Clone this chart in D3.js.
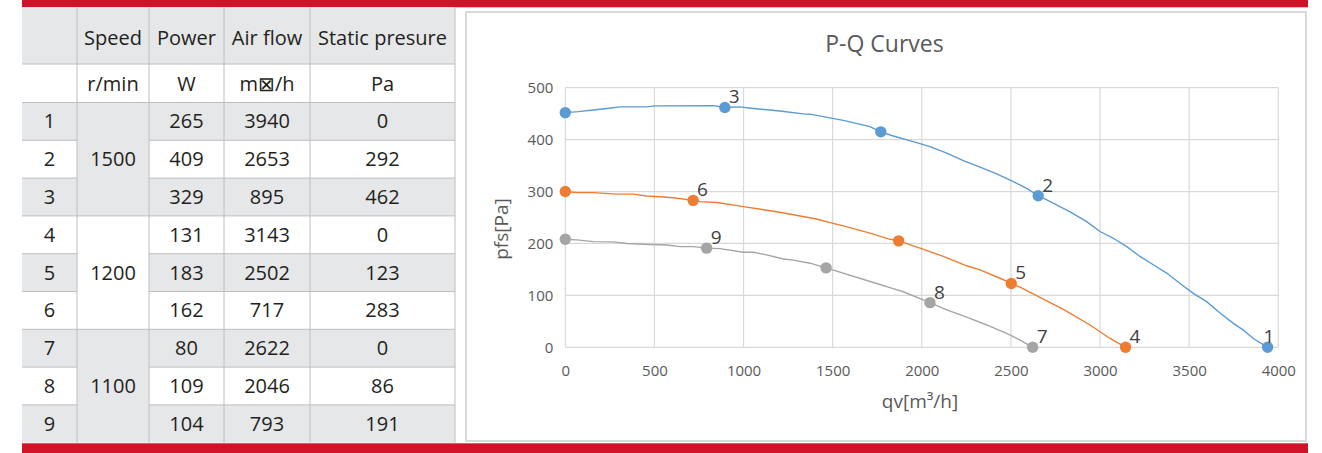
<!DOCTYPE html>
<html lang="en">
<head>
<meta charset="utf-8">
<title>P-Q Curves</title>
<script src="https://cdn.jsdelivr.net/npm/d3@7"></script>
<style>
  body { margin: 0; background: #fff; }
  svg { display: block; font-family: "Open Sans", sans-serif; }
</style>
</head>
<body>
<script>
// ---- table data ----
const headers = ["Speed", "Power", "Air flow", "Static presure"];
const units = ["r/min", "W", "m\u22A0/h", "Pa"];
const rowNo = [1, 2, 3, 4, 5, 6, 7, 8, 9];
const speeds = [1500, 1200, 1100];
const power = [265, 409, 329, 131, 183, 162, 80, 109, 104];
const airflow = [3940, 2653, 895, 3143, 2502, 717, 2622, 2046, 793];
const pressure = [0, 292, 462, 0, 123, 283, 0, 86, 191];

// ---- curves ----
const q1500 = [0, 73, 157, 232, 307, 456, 503, 830, 895, 980, 1055, 1204, 1335, 1373, 1560, 1709, 1770, 1840, 1952, 2046, 2140, 2233, 2327, 2420, 2514, 2589, 2653, 2701, 2832, 2925, 3000, 3075, 3150, 3224, 3299, 3374, 3449, 3523, 3598, 3673, 3748, 3804, 3860, 3940];
const p1500 = [452, 454, 457, 460, 463, 463, 465, 465.5, 462, 463, 460, 455, 449.5, 449, 437, 425, 415, 407, 396, 386.5, 374, 359.5, 347, 334, 319, 306, 292, 284, 261, 242, 223, 210, 194, 175, 159, 143, 123, 104, 88, 66, 46, 33, 17, 0];
const q1200 = [0, 64, 157, 288, 381, 457, 531, 606, 717, 756, 849, 999, 1186, 1410, 1485, 1560, 1709, 1822, 1870, 1990, 2121, 2252, 2327, 2439, 2502, 2551, 2663, 2794, 2944, 3056, 3143];
const p1200 = [300, 298, 298, 295, 295, 291.5, 290, 288, 283, 280.5, 279, 271, 261, 247, 240, 234, 220, 208, 205, 191, 175, 157, 149, 133, 123, 116, 96, 73, 43, 17, 0];
const q1100 = [0, 64, 157, 269, 344, 475, 569, 643, 718, 793, 868, 999, 1055, 1130, 1223, 1279, 1373, 1463, 1765, 1821, 1896, 2046, 2140, 2252, 2364, 2476, 2551, 2622];
const p1100 = [208, 207, 203.5, 203, 200, 198, 197, 194, 194, 191, 190, 183, 183, 178, 170, 168, 162, 153, 121, 115, 107, 86, 72, 58, 43, 27, 14, 0];

// unlabelled markers: [series index, flow, pressure]
const extraSeries = [0, 0, 1, 1, 2, 2];
const extraQ = [0, 1770, 0, 1870, 0, 1463];
const extraP = [452, 415, 300, 205, 208, 153];

const xTicks = [0, 500, 1000, 1500, 2000, 2500, 3000, 3500, 4000];
const yTicks = [0, 100, 200, 300, 400, 500];
const colors = ["#5b9bd5", "#ed7d31", "#a5a5a5"];

const W = 1322, H = 453;
const red = "#cf1429";

const svg = d3.select("body").append("svg")
  .attr("width", W).attr("height", H);

// red bars
svg.append("rect").attr("x", 22).attr("y", 0).attr("width", 1286).attr("height", 7.3).attr("fill", red);
svg.append("rect").attr("x", 22).attr("y", 443.3).attr("width", 1286).attr("height", 10).attr("fill", red);

// ---- table ----
const colX = [22, 77, 149, 224, 310, 455];
const rowH = 37.8, row0 = 102.5;
const gray = "#e6e7e8", lineC = "#bcbec0", txt = "#231f20";
const tbl = svg.append("g").style("font-size", "20px").attr("fill", txt);
const rowY = i => row0 + i * rowH;
const cx = c => (colX[c] + colX[c + 1]) / 2;

// backgrounds
tbl.append("rect").attr("x", colX[0]).attr("y", 7.3).attr("width", colX[5] - colX[0]).attr("height", 64 - 7.3).attr("fill", gray);
rowNo.forEach((n, i) => {
  if (i % 2 === 0) {
    tbl.append("rect").attr("x", colX[0]).attr("y", rowY(i)).attr("width", colX[1] - colX[0]).attr("height", rowH).attr("fill", gray);
    tbl.append("rect").attr("x", colX[2]).attr("y", rowY(i)).attr("width", colX[5] - colX[2]).attr("height", rowH).attr("fill", gray);
  }
});
speeds.forEach((s, k) => {
  if (k !== 1) tbl.append("rect").attr("x", colX[1]).attr("y", rowY(k * 3)).attr("width", colX[2] - colX[1]).attr("height", rowH * 3).attr("fill", gray);
});

// grid lines
colX.slice(1).forEach(x => {
  tbl.append("line").attr("x1", x).attr("x2", x).attr("y1", 7.3).attr("y2", rowY(9))
    .attr("stroke", lineC).attr("stroke-width", 1);
});
[64, row0].forEach(y => {
  tbl.append("line").attr("x1", colX[0]).attr("x2", colX[5]).attr("y1", y).attr("y2", y).attr("stroke", lineC);
});
rowNo.forEach((n, i) => {
  if (i === 0) return;
  const y = rowY(i);
  const full = i % 3 === 0;
  tbl.append("line").attr("x1", colX[0]).attr("x2", colX[1]).attr("y1", y).attr("y2", y).attr("stroke", lineC);
  tbl.append("line").attr("x1", full ? colX[1] : colX[2]).attr("x2", colX[5]).attr("y1", y).attr("y2", y).attr("stroke", lineC);
});

// text
const cell = (x, yc, t) => tbl.append("text").attr("x", x).attr("y", yc + 7)
  .attr("text-anchor", "middle").text(t);
headers.forEach((h, c) => cell(cx(c + 1), 37.5, h));
units.forEach((u, c) => cell(cx(c + 1), 84, u));
rowNo.forEach((n, i) => {
  const yc = rowY(i) + rowH / 2;
  cell(cx(0), yc, n);
  cell(cx(2), yc, power[i]);
  cell(cx(3), yc, airflow[i]);
  cell(cx(4), yc, pressure[i]);
});
speeds.forEach((s, k) => cell(cx(1), rowY(k * 3) + rowH * 1.5, s));

// ---- chart ----
svg.append("rect").attr("x", 466).attr("y", 12).attr("width", 840).attr("height", 429)
  .attr("fill", "#fff").attr("stroke", "#d9d9d9").attr("stroke-width", 2);

const x = d3.scaleLinear().domain([0, 4000]).range([565.3, 1278.3]);
const y = d3.scaleLinear().domain([0, 500]).range([347.3, 87.7]);

const grid = svg.append("g").attr("stroke", "#d9d9d9").attr("stroke-width", 1.2);
xTicks.forEach(t => grid.append("line").attr("x1", x(t)).attr("x2", x(t)).attr("y1", y(0)).attr("y2", y(500)));
yTicks.forEach(t => grid.append("line").attr("x1", x(0)).attr("x2", x(4000)).attr("y1", y(t)).attr("y2", y(t)));

const ax = svg.append("g").attr("transform", `translate(0,${y(0)})`)
  .call(d3.axisBottom(x).tickValues(xTicks).tickFormat(d3.format("d")).tickSize(0).tickPadding(18.5));
const ay = svg.append("g").attr("transform", `translate(${x(0)},0)`)
  .call(d3.axisLeft(y).tickValues(yTicks).tickFormat(d3.format("d")).tickSize(0).tickPadding(12));
[ax, ay].forEach(g => {
  g.select(".domain").remove();
  g.selectAll("text").attr("fill", "#595959").style("font-size", "15px").style("font-family", "'Open Sans', sans-serif");
});

svg.append("text").attr("x", 884.5).attr("y", 52).attr("text-anchor", "middle")
  .attr("fill", "#595959").style("font-size", "23px").text("P-Q Curves");
svg.append("text").attr("x", 920).attr("y", 408).attr("text-anchor", "middle")
  .attr("fill", "#595959").style("font-size", "19px").text("qv[m\u00B3/h]");
svg.append("text").attr("transform", "translate(508,229) rotate(-90)").attr("text-anchor", "middle")
  .attr("fill", "#595959").style("font-size", "19px").text("pfs[Pa]");

const curves = [[q1500, p1500], [q1200, p1200], [q1100, p1100]];
const line = d3.line().x(d => x(d[0])).y(d => y(d[1]));
curves.forEach(([qs, ps], k) => {
  svg.append("path").datum(qs.map((q, i) => [q, ps[i]]))
    .attr("d", line).attr("fill", "none").attr("stroke", colors[k]).attr("stroke-width", 1.4);
});

extraQ.forEach((q, i) => {
  svg.append("circle").attr("cx", x(q)).attr("cy", y(extraP[i])).attr("r", 5.7).attr("fill", colors[extraSeries[i]]);
});

rowNo.forEach((n, i) => {
  const k = Math.floor(i / 3);
  const px = x(airflow[i]), py = y(pressure[i]);
  svg.append("circle").attr("cx", px).attr("cy", py).attr("r", 5.7).attr("fill", colors[k]);
  svg.append("text").attr("x", n === 1 ? px - 4 : px + 4).attr("y", py - 4)
    .attr("fill", "#404040").style("font-size", "19px").text(n);
});
</script>
</body>
</html>
